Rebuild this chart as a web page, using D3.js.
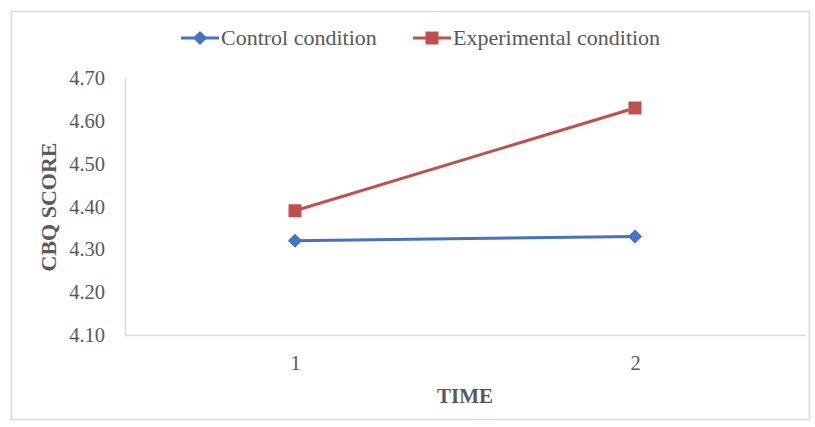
<!DOCTYPE html>
<html><head><meta charset="utf-8">
<script src="https://cdn.jsdelivr.net/npm/d3@7"></script>
<style>body{margin:0;background:#fff}svg{display:block}text{font-family:"Liberation Serif","Times New Roman",serif;fill:#595959}</style>
</head><body>
<svg id="c" width="815" height="427"></svg>
<script>
const categories = ["1", "2"];
const controlValues = [4.32, 4.33];
const experimentalValues = [4.39, 4.63];
const yTicks = [4.10, 4.20, 4.30, 4.40, 4.50, 4.60, 4.70];
const seriesNames = ["Control condition", "Experimental condition"];
const colors = ["#4472C4", "#C0504D"];

const svg = d3.select("#c");
const W = 815, H = 427;
const m = {left:125, right:10, top:78, bottom:92};

svg.append("rect").attr("x",11.5).attr("y",11.5).attr("width",798).attr("height",408)
  .attr("fill","#fff").attr("stroke","#d9d9d9").attr("stroke-width",1.5);

const x = d3.scalePoint().domain(categories).range([m.left, W - m.right]).padding(0.5);
const y = d3.scaleLinear().domain([4.10, 4.70]).range([H - m.bottom, m.top]);

const ya = svg.append("g").attr("transform",`translate(${m.left},0)`)
  .call(d3.axisLeft(y).tickValues(yTicks).tickFormat(d3.format(".2f")).tickSize(0).tickPadding(20));
ya.select(".domain").attr("stroke","#d9d9d9").attr("stroke-width",1.5);
ya.selectAll("text").attr("font-size",20.5).style("font-family","Liberation Serif").attr("fill","#595959");

const xa = svg.append("g").attr("transform",`translate(0,${H - m.bottom})`)
  .call(d3.axisBottom(x).tickSize(0).tickPadding(20));
xa.select(".domain").attr("stroke","#d9d9d9").attr("stroke-width",1.5);
xa.selectAll("text").attr("font-size",20.5).style("font-family","Liberation Serif").attr("fill","#595959");

svg.append("text").attr("x",465).attr("y",403).attr("text-anchor","middle")
  .attr("font-size",21).attr("font-weight","bold").text("TIME");
svg.append("text").attr("transform","translate(56,207) rotate(-90)").attr("text-anchor","middle")
  .attr("font-size",22).attr("font-weight","bold").text("CBQ SCORE");

const diamond = d3.symbol().type(d3.symbolSquare).size(100);
const square = d3.symbol().type(d3.symbolSquare).size(169);

const series = [controlValues, experimentalValues];
const line = d3.line().x((d,i)=>x(categories[i])).y(d=>y(d));
series.forEach((vals, si) => {
  svg.append("path").datum(vals).attr("d", line).attr("fill","none")
    .attr("stroke", colors[si]).attr("stroke-width",3);
  svg.selectAll(null).data(vals).enter().append("path")
    .attr("d", si === 0 ? diamond : square)
    .attr("transform",(d,i)=>`translate(${x(categories[i])},${y(d)})` + (si===0?" rotate(45)":""))
    .attr("fill", colors[si]);
});

const legendX = [181, 413];
seriesNames.forEach((n, si) => {
  const g = svg.append("g").attr("transform",`translate(${legendX[si]},38)`);
  g.append("line").attr("x1",0).attr("x2",38).attr("stroke",colors[si]).attr("stroke-width",3);
  g.append("path").attr("d", si===0 ? diamond : square)
    .attr("transform","translate(19,0)" + (si===0?" rotate(45)":"")).attr("fill",colors[si]);
  g.append("text").attr("x",40).attr("y",7).attr("font-size",22).text(n);
});
</script>
</body></html>
